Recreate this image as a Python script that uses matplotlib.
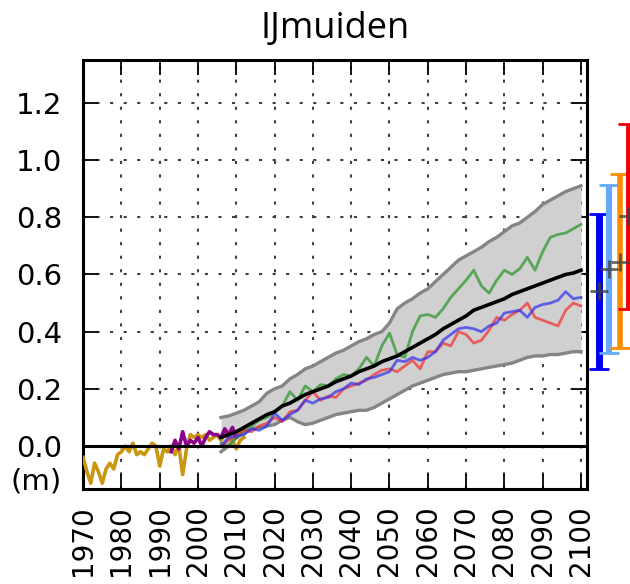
import matplotlib
matplotlib.use("Agg")
import matplotlib.pyplot as plt
import matplotlib.transforms as mtransforms
import numpy as np

# tide gauge observations (yearly means, m)
obs_years = np.arange(1970, 2013)
obs_gauge = [-0.04, -0.09, -0.13, -0.06, -0.09, -0.13, -0.08, -0.06, -0.08, -0.03,
             -0.02, 0.00, -0.02, 0.01, -0.03, -0.02, -0.03, -0.01, 0.01, 0.00,
             -0.07, -0.01, -0.02, 0.00, -0.03, 0.00, -0.10, -0.01, 0.04, 0.03,
             0.04, 0.03, 0.04, 0.02, 0.03, 0.04, 0.02, 0.05, 0.03, 0.02,
             -0.01, 0.02, 0.03]

# satellite altimetry
alt_years = np.arange(1993, 2011)
obs_alt = [-0.02, 0.02, -0.01, 0.05, 0.00, 0.02, 0.01, 0.03, 0.00, 0.03,
           0.05, 0.04, 0.04, 0.03, 0.06, 0.04, 0.065, 0.03]

# projections, every second year
proj_years = np.arange(2006, 2101, 2)
ens_mean = [0.03, 0.04, 0.05, 0.065, 0.08, 0.095, 0.11, 0.12, 0.14, 0.15,
            0.165, 0.18, 0.19, 0.20, 0.21, 0.225, 0.235, 0.245, 0.26, 0.27,
            0.28, 0.295, 0.305, 0.315, 0.33, 0.345, 0.36, 0.375, 0.39, 0.41,
            0.425, 0.44, 0.455, 0.475, 0.485, 0.495, 0.505, 0.515, 0.53, 0.54,
            0.55, 0.56, 0.57, 0.58, 0.59, 0.60, 0.605, 0.615]
ens_high = [0.10, 0.105, 0.115, 0.125, 0.14, 0.155, 0.185, 0.20, 0.21, 0.235,
            0.25, 0.27, 0.28, 0.295, 0.31, 0.325, 0.335, 0.35, 0.365, 0.375,
            0.39, 0.40, 0.43, 0.48, 0.50, 0.515, 0.535, 0.55, 0.575, 0.60,
            0.625, 0.65, 0.665, 0.68, 0.695, 0.715, 0.73, 0.75, 0.77, 0.78,
            0.80, 0.82, 0.845, 0.86, 0.875, 0.89, 0.90, 0.91]
ens_low = [-0.02, 0.00, 0.03, 0.045, 0.06, 0.065, 0.07, 0.075, 0.09, 0.10,
           0.085, 0.075, 0.08, 0.09, 0.10, 0.11, 0.115, 0.12, 0.125, 0.125,
           0.135, 0.15, 0.165, 0.18, 0.195, 0.21, 0.22, 0.23, 0.24, 0.25,
           0.255, 0.26, 0.26, 0.265, 0.27, 0.275, 0.28, 0.285, 0.29, 0.30,
           0.31, 0.315, 0.315, 0.32, 0.32, 0.325, 0.33, 0.33]
run_green = [0.01, 0.00, 0.03, 0.055, 0.07, 0.09, 0.10, 0.12, 0.14, 0.19,
             0.16, 0.21, 0.19, 0.215, 0.21, 0.235, 0.25, 0.245, 0.27, 0.31,
             0.28, 0.35, 0.395, 0.32, 0.31, 0.40, 0.455, 0.46, 0.45, 0.48,
             0.52, 0.55, 0.58, 0.615, 0.56, 0.535, 0.58, 0.615, 0.60, 0.62,
             0.66, 0.615, 0.68, 0.73, 0.74, 0.745, 0.76, 0.775]
run_red = [0.00, 0.02, 0.04, 0.055, 0.05, 0.07, 0.08, 0.10, 0.085, 0.12,
           0.125, 0.16, 0.19, 0.16, 0.175, 0.17, 0.20, 0.21, 0.22, 0.23,
           0.25, 0.265, 0.27, 0.26, 0.28, 0.30, 0.27, 0.33, 0.33, 0.36,
           0.35, 0.40, 0.39, 0.36, 0.37, 0.405, 0.45, 0.44, 0.46, 0.475,
           0.50, 0.45, 0.44, 0.43, 0.42, 0.475, 0.50, 0.49]
run_blue = [0.00, 0.03, 0.035, 0.04, 0.06, 0.055, 0.07, 0.115, 0.09, 0.11,
            0.125, 0.16, 0.15, 0.165, 0.17, 0.19, 0.20, 0.22, 0.215, 0.235,
            0.24, 0.25, 0.26, 0.30, 0.295, 0.31, 0.30, 0.31, 0.33, 0.37,
            0.39, 0.41, 0.415, 0.41, 0.40, 0.42, 0.43, 0.465, 0.47, 0.475,
            0.45, 0.485, 0.495, 0.50, 0.51, 0.54, 0.515, 0.52]

# ranges for 2100 drawn right of the axes
bar_x = [2104.6, 2107.2, 2110.1, 2112.4]
bar_low = [0.268, 0.324, 0.342, 0.481]
bar_mid = [0.542, 0.618, 0.645, 0.804]
bar_high = [0.813, 0.913, 0.953, 1.126]
bar_colors = ['#0000ee', '#66aaff', '#ff8c00', '#ee0000']
bar_widths = [5, 4.5, 4, 3.5]

fig = plt.figure(figsize=(6.3, 5.84), dpi=100)
ax = fig.add_axes([0.1313, 0.1628, 0.800, 0.7344])

ax.fill_between(proj_years, ens_low, ens_high, color='#d0d0d0', lw=0, zorder=1)
ax.plot(proj_years, ens_high, color='#858585', lw=2.4, zorder=2)
ax.plot(proj_years, ens_low, color='#858585', lw=2.4, zorder=2)

ax.plot(obs_years, obs_gauge, color='#c8960f', lw=2.6, zorder=3)
ax.plot(alt_years, obs_alt, color='#8b008b', lw=2.6, zorder=4)

ax.plot(proj_years, run_green, color='#3a9a3a', lw=2, alpha=0.8, zorder=5)
ax.plot(proj_years, run_red, color='#f03030', lw=2, alpha=0.7, zorder=5)
ax.plot(proj_years, run_blue, color='#3030f0', lw=2, alpha=0.7, zorder=5)
ax.plot(proj_years, ens_mean, color='black', lw=2.6, zorder=6)

ax.axhline(0, color='black', lw=2.2, zorder=7)

for x, lo, mid, hi, c, w in zip(bar_x, bar_low, bar_mid, bar_high, bar_colors, bar_widths):
    eb = ax.errorbar([x], [mid], yerr=[[mid - lo], [hi - mid]], fmt='none', ecolor=c,
                     elinewidth=w, capsize=7, capthick=2, clip_on=False, zorder=8)
    for art in eb.get_children():
        art.set_clip_on(False)
    ax.plot([x], [mid], marker='+', ms=13, mew=2, color='#404040', alpha=0.8,
            clip_on=False, zorder=9)

ax.set_xlim(1969.9, 2101.5)
ax.set_ylim(-0.15, 1.35)
ax.set_xticks(np.arange(1970, 2101, 10))
ax.set_xticklabels([str(y) for y in range(1970, 2101, 10)], rotation=90)
ax.set_yticks(np.arange(0, 1.21, 0.2))
ax.set_yticklabels(['%.1f' % v for v in np.arange(0, 1.21, 0.2)])

ax.tick_params(direction='in', length=11, width=1.3, top=True, right=True, labelsize=21)
ax.tick_params(axis='x', pad=12, labelsize=20)
ax.tick_params(axis='y', pad=15)
ax.grid(True, color='#404040', linestyle=(0, (1.5, 5)), lw=1.5)
ax.set_axisbelow(True)
for sp in ax.spines.values():
    sp.set_linewidth(2.2)

# unit label below the y tick labels
trans = mtransforms.blended_transform_factory(ax.transAxes, ax.transData)
ax.text(-0.042, -0.125, '(m)', transform=trans, ha='right', va='center', fontsize=21)

ax.set_title('IJmuiden', fontsize=26, family=['Open Sans', 'DejaVu Sans'], pad=16)

fig.savefig('out.png', dpi=100)
